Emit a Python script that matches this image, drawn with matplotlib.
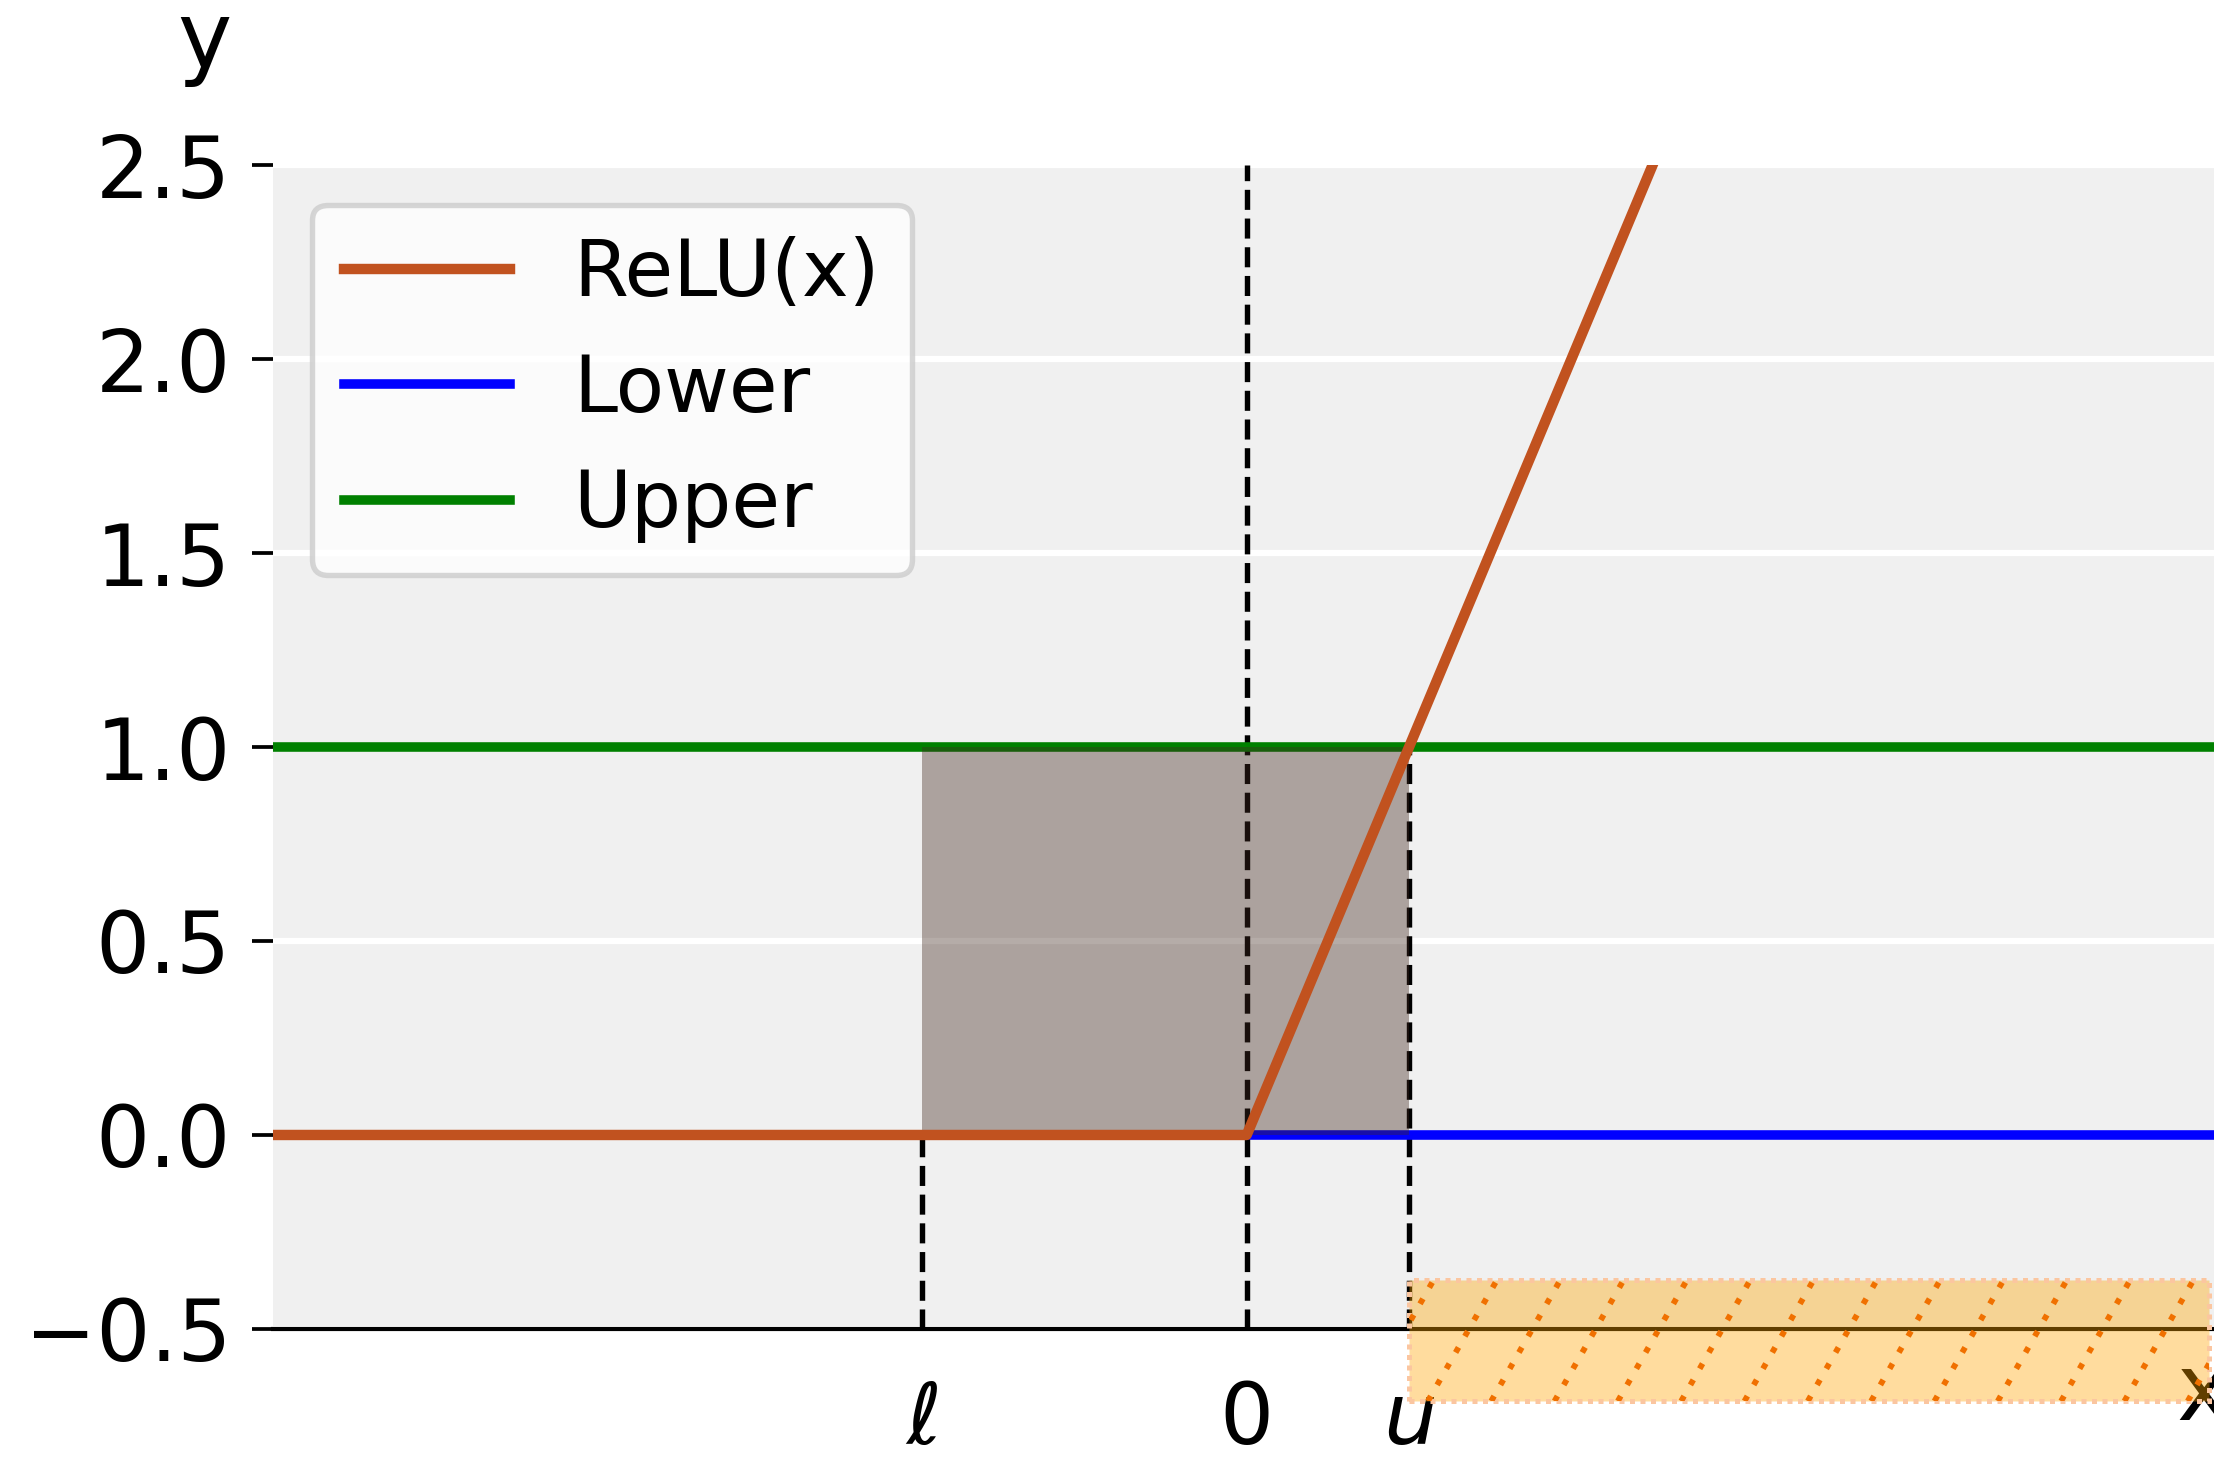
import numpy as np
import matplotlib.pyplot as plt
from matplotlib.patches import Rectangle

# bounds of the input interval
l_bound = -2
u_bound = 1

relu_x = [-6, 0, 6]
relu_y = [0, 0, 6]
lower_x = [-6, 6]
lower_y = [0, 0]
upper_x = [-6, 6]
upper_y = [1, 1]

xtick_pos = [l_bound, 0, u_bound]
xtick_labels = [r'$\ell$', '0', r'$u$']
ytick_pos = [-0.5, 0.0, 0.5, 1.0, 1.5, 2.0, 2.5]

fig = plt.figure(figsize=(7.38, 4.86), dpi=300)
ax = fig.add_axes([0.1231, 0.0885, 0.88, 0.7983])
ax.set_facecolor('#f0f0f0')
ax.set_xlim(-6, 6)
ax.set_ylim(-0.5, 2.5)

for s in ['top', 'right', 'left']:
    ax.spines[s].set_visible(False)
ax.spines['bottom'].set_linewidth(1.0)
ax.spines['bottom'].set_color('black')

ax.yaxis.grid(True, color='white', linewidth=1.5)
ax.set_axisbelow(True)

ax.set_yticks(ytick_pos)
ax.set_yticklabels(['%.1f' % v if v >= 0 else '\u22120.5' for v in ytick_pos])
ax.set_xticks(xtick_pos)
ax.set_xticklabels(xtick_labels)
ax.tick_params(axis='y', labelsize=20.4, length=5, width=0.9, pad=5)
ax.tick_params(axis='x', labelsize=20.4, length=0, pad=12)

# dashed guides
ax.vlines(l_bound, -0.5, 0, colors='black', linestyles='--', linewidth=1.3, zorder=2)
ax.vlines(0, -0.5, 2.5, colors='black', linestyles='--', linewidth=1.3, zorder=2)
ax.vlines(u_bound, -0.5, 1, colors='black', linestyles='--', linewidth=1.3, zorder=2)

ax.plot(lower_x, lower_y, color='blue', linewidth=2.3, label='Lower', zorder=3)
ax.plot(upper_x, upper_y, color='green', linewidth=2.3, label='Upper', zorder=3)

# region between the bounds
ax.fill_between([l_bound, u_bound], 0, 1, color='#42291f', alpha=0.39, linewidth=0, zorder=4)

ax.plot(relu_x, relu_y, color='#c1521f', linewidth=2.5, label='ReLU(x)', zorder=5)

handles, labels = ax.get_legend_handles_labels()
order = [2, 0, 1]
leg = ax.legend([handles[i] for i in order], [labels[i] for i in order],
                loc='upper left', fontsize=19, labelspacing=0.5, handlelength=2.1,
                fancybox=True, framealpha=0.8)
leg.get_frame().set_linewidth(1.3)

ax.text(-0.035, 1.083, 'y', transform=ax.transAxes, fontsize=22, ha='center', va='baseline')
ax.text(0.977, -0.078, 'x', transform=ax.transAxes, fontsize=22, ha='left', va='baseline',
        clip_on=False)

# highlighted part of the x axis, x >= u
rect_bottom = -0.686
rect_height = 0.312
rect_right = 5.93
rect = Rectangle((u_bound, rect_bottom), rect_right - u_bound, rect_height,
                 facecolor=(1.0, 0.647, 0.0, 0.38), edgecolor='#fbc6a0',
                 linestyle=(0, (1, 1.1)), linewidth=1.2, clip_on=False, zorder=10)
ax.add_patch(rect)
step = 0.39
shift = 0.425
for x0 in np.arange(u_bound + 0.116 - step, rect_right + step, step):
    ln, = ax.plot([x0, x0 + shift], [rect_bottom, rect_bottom + rect_height],
                  color='#f07000', linewidth=1.4, linestyle=(0, (1, 2.2)), zorder=11)
    # clip to the rectangle instead of the axes box
    ln.set_clip_path(rect)

fig.savefig('out.png', dpi=300)
